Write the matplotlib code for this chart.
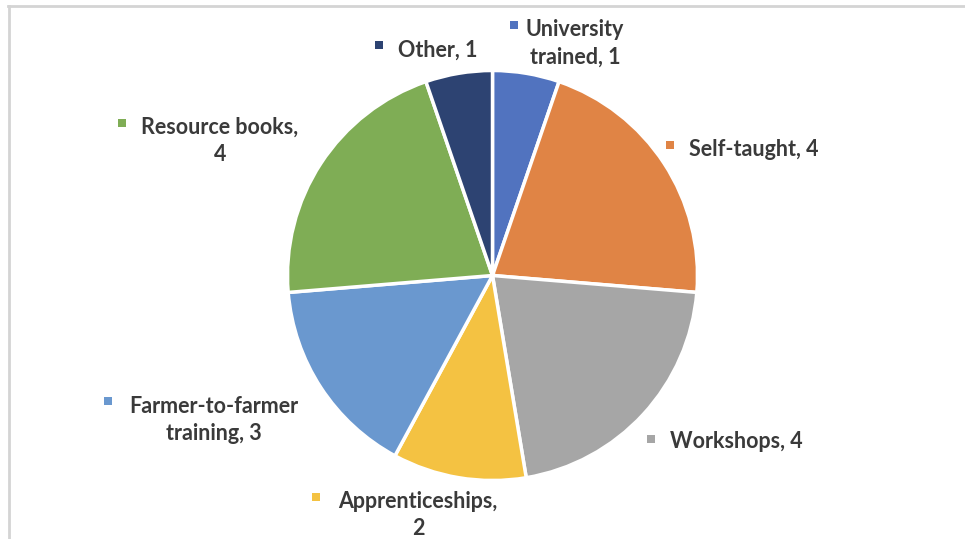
import matplotlib
matplotlib.use("Agg")
import matplotlib.pyplot as plt
from matplotlib.lines import Line2D

# Training sources and counts
categories = ["University trained", "Self-taught", "Workshops", "Apprenticeships",
              "Farmer-to-farmer training", "Resource books", "Other"]
values = [1, 4, 4, 2, 3, 4, 1]
colors = ["#5173BF", "#E08445", "#A6A6A6", "#F4C242", "#6A98CF", "#7FAD55", "#2D4372"]

# Label text blocks (line breaks as laid out) with centre positions in pixels (x, y from top)
label_text = ["University\ntrained, 1", "Self-taught, 4", "Workshops, 4", "Apprenticeships,\n2",
              "Farmer-to-farmer\ntraining, 3", "Resource books,\n4", "Other, 1"]
label_pos = [(575, 43), (754, 149), (736, 442), (418, 515), (214, 420), (220, 141), (438, 50)]
marker_pos = [(514, 25), (670, 145), (651, 439), (316, 497), (108, 401), (122, 123), (379, 45)]

W, H = 965, 539
fig = plt.figure(figsize=(W / 100, H / 100), dpi=100)
ax = fig.add_axes([0, 0, 1, 1])

cx, cy, r = 492.5, H - 275.5, 205
ax.pie(values, colors=colors, startangle=90, counterclock=False,
       center=(cx, cy), radius=r, frame=True,
       wedgeprops=dict(edgecolor="white", linewidth=2.5))
ax.set_xlim(0, W)
ax.set_ylim(0, H)
ax.set_aspect("equal")
ax.axis("off")

for txt, (lx, ly), (mx, my), col in zip(label_text, label_pos, marker_pos, colors):
    ax.text(lx, H - ly, txt, ha="center", va="center", fontsize=15.5,
            fontweight="bold", color="#3A3A3A", family="Lato", linespacing=1.4)
    ax.scatter([mx], [H - my], marker="s", s=30, color=col, linewidths=0)

# Chart border (top and left edges)
fig.add_artist(Line2D([8 / W, 1], [1 - 6 / H, 1 - 6 / H], transform=fig.transFigure,
                      color="#D4D4D4", linewidth=2))
fig.add_artist(Line2D([9 / W, 9 / W], [0, 1 - 6 / H], transform=fig.transFigure,
                      color="#D4D4D4", linewidth=2))

fig.savefig("out.png", dpi=100)
